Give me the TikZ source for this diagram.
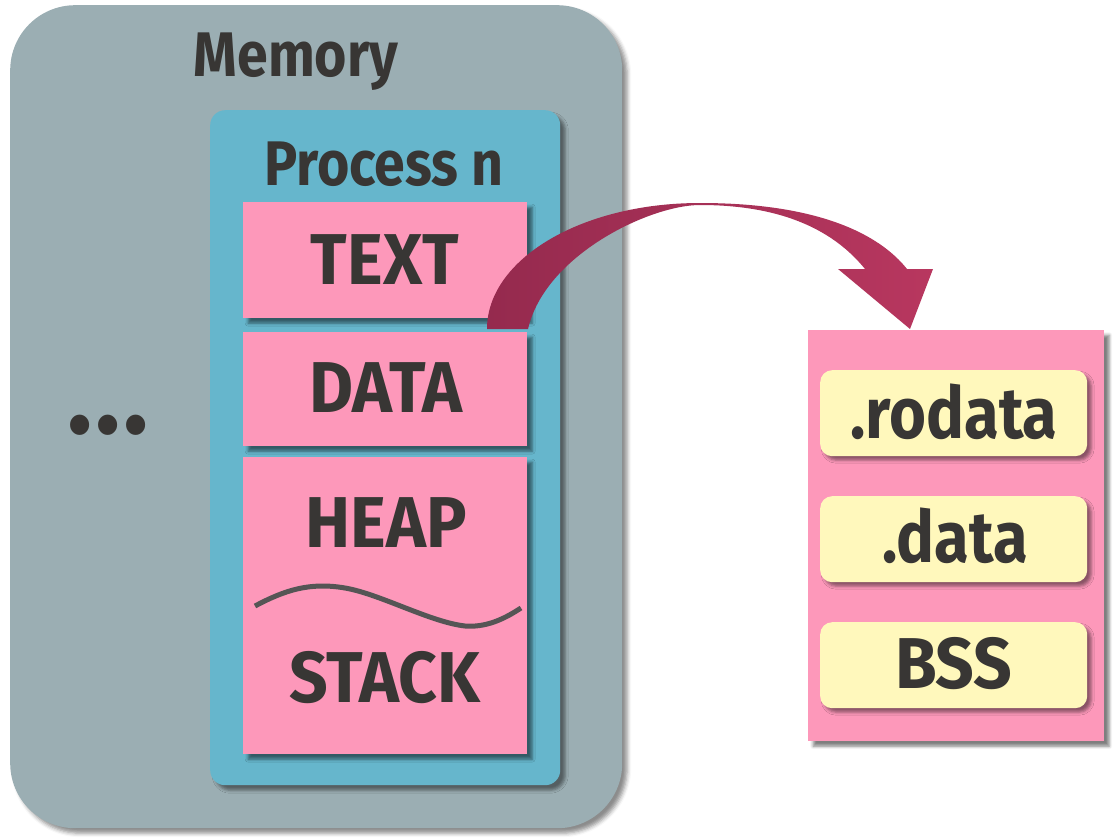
\documentclass[tikz,border=0pt]{standalone}
\usepackage{fontspec}
\setmainfont{Fira Sans}[FakeStretch=0.88]
\newfontfamily\capsfont{Fira Sans}[FakeStretch=0.94]
\usetikzlibrary{shadows.blur}
\definecolor{membg}{HTML}{9BAEB3}
\definecolor{procbg}{HTML}{66B6CC}
\definecolor{pinkbg}{HTML}{FD98BA}
\definecolor{yellowbg}{HTML}{FFF8BC}
\definecolor{ink}{HTML}{383634}
\definecolor{arrowdark}{HTML}{952A4E}
\definecolor{arrowlight}{HTML}{B8375F}
\definecolor{wave}{HTML}{555555}
\tikzset{
  box/.style={anchor=north west, inner sep=0pt, draw=none},
  memstyle/.style={box, fill=membg, rounded corners=65pt,
    blur shadow={shadow xshift=5pt, shadow yshift=-5pt, shadow blur radius=4pt, shadow opacity=45}},
  procstyle/.style={box, fill=procbg, rounded corners=15pt,
    blur shadow={shadow xshift=5pt, shadow yshift=-5pt, shadow blur radius=3pt, shadow opacity=45}},
  segstyle/.style={box, fill=pinkbg,
    blur shadow={shadow xshift=5pt, shadow yshift=-5pt, shadow blur radius=3pt, shadow opacity=50}},
  secstyle/.style={box, fill=yellowbg, rounded corners=12pt,
    blur shadow={shadow xshift=4pt, shadow yshift=-4pt, shadow blur radius=3pt, shadow opacity=45}},
  bigtxt/.style={anchor=base, inner sep=0pt, text=ink, font=\fontsize{72}{80}\selectfont\bfseries},
  capstxt/.style={anchor=base, inner sep=0pt, text=ink, font=\fontsize{72}{80}\capsfont\bfseries},
  titletxt/.style={anchor=base, inner sep=0pt, text=ink, font=\fontsize{63}{70}\selectfont\bfseries},
  dotstxt/.style={anchor=base, inner sep=0pt, text=ink, font=\fontsize{112}{114}\capsfont\bfseries},
}
\begin{document}
\begin{tikzpicture}[x=1pt, y=-1pt]
\useasboundingbox (0,0) rectangle (1119,840);
% containers
\node[memstyle, minimum width=612pt, minimum height=823pt] (mem) at (10,5) {};
\node[procstyle, minimum width=350pt, minimum height=675pt] (proc) at (210,110) {};
\node[segstyle, minimum width=284pt, minimum height=116pt] (textseg) at (243,202) {};
\node[segstyle, minimum width=284pt, minimum height=114pt] (dataseg) at (243,332) {};
\node[segstyle, minimum width=284pt, minimum height=297pt] (heapseg) at (243,457) {};
\node[segstyle, minimum width=296pt, minimum height=411pt] (datadetail) at (808,330) {};
\node[secstyle, minimum width=267pt, minimum height=86pt] (rodata) at (820,370) {};
\node[secstyle, minimum width=267pt, minimum height=86pt] (datasec) at (820,496) {};
\node[secstyle, minimum width=267pt, minimum height=86pt] (bss) at (820,622) {};
% labels
\node[titletxt] (memlbl) at (296,77) {Memory};
\node[titletxt] (proclbl) at (384,185) {Process n};
\node[dotstxt] (dots) at (108,433) {.\kern3pt.\kern3pt.};
\node[capstxt] (textlbl) at (385,284) {TEXT};
\node[capstxt] (datalbl) at (386,412) {DATA};
\node[capstxt] (heaplbl) at (386,547) {HEAP};
\node[capstxt] (stacklbl) at (385,702) {STACK};
\node[bigtxt] (rodatalbl) at (954,438) {.rodata};
\node[bigtxt] (datasecl) at (955,562) {.data};
\node[capstxt] (bsslbl) at (954,688) {BSS};
% wave separating heap and stack
\coordinate (wa) at (255,606);
\coordinate (wb) at (521,608);
\draw[wave, line width=5pt] (wa) .. controls (285,590) and (310,582) .. (345,588)
  .. controls (380,594) and (430,622) .. (465,626)
  .. controls (490,628) and (510,615) .. (wb);
% curved arrow from DATA to the detail box
\coordinate (arrowtip) at (910,329);
\shade[left color=arrowdark, right color=arrowlight, shading angle=90]
  (487,329) .. controls (487,260) and (580,203) .. (700,203)
  .. controls (820,203) and (880,235) .. (907,269)
  -- (933,269) -- (arrowtip) -- (838,269) -- (865,269)
  .. controls (835,232) and (785,205) .. (700,205)
  .. controls (650,205) and (545,255) .. (528,329) -- cycle;
\end{tikzpicture}
\end{document}
